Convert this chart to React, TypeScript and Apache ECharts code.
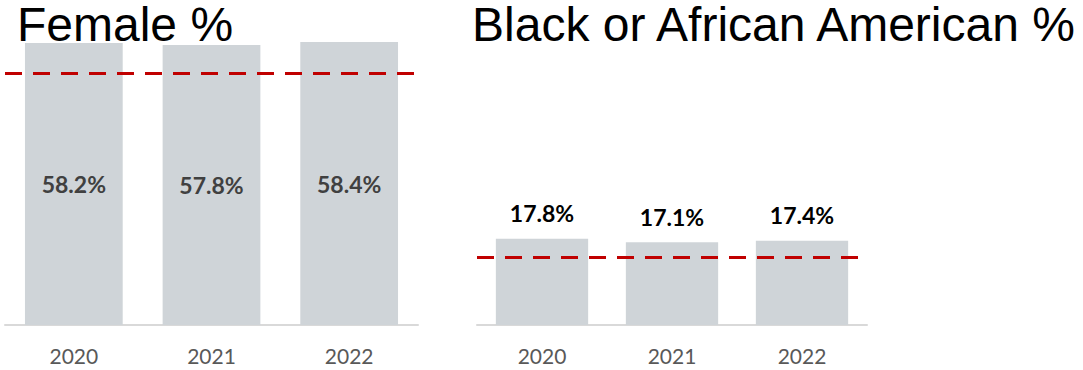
import React, { useEffect, useRef } from "react";
import * as echarts from "echarts";

const categories = ["2020", "2021", "2022"];
const femaleValues = [58.2, 57.8, 58.4];
const blackValues = [17.8, 17.1, 17.4];
const femaleTarget = 52;
const blackTarget = 14;
const titleLeft = "Female %";
const titleRight = "Black or African American %";

const BAR = "#CFD4D8";
const RED = "#C00000";
const AXIS = "#D9D9D9";

export default function App() {
  const ref = useRef<HTMLDivElement>(null);
  useEffect(() => {
    if (!ref.current) return;
    const chart = echarts.init(ref.current, undefined, { renderer: "svg" });
    const xAxisBase = {
      type: "category",
      data: categories,
      axisTick: { show: false },
      axisLine: { lineStyle: { color: AXIS, width: 2 } },
      axisLabel: { color: "#595959", fontFamily: "Lato", fontSize: 21, margin: 20 },
    };
    const yAxisBase = { type: "value", min: 0, max: 60, show: false, splitLine: { show: false } };
    const markLine = (v: number) => ({
      silent: true,
      symbol: "none",
      label: { show: false },
      lineStyle: { color: RED, width: 3, type: [17, 11] },
      data: [{ yAxis: v }],
    });
    const titleStyle = {
      fontFamily: "Liberation Sans",
      fontSize: 48,
      lineHeight: 48,
      fontWeight: "normal",
      color: "#000",
    };
    chart.setOption({
      animation: false,
      title: [
        { text: titleLeft, left: 17, top: 0, padding: 0, textStyle: titleStyle },
        { text: titleRight, left: 472, top: 0, padding: 0, textStyle: titleStyle },
      ],
      grid: [
        { left: 5, right: 665, top: 34.3, bottom: 45 },
        { left: 477, right: 216, top: 34.3, bottom: 45 },
      ],
      xAxis: [
        { ...xAxisBase, gridIndex: 0 },
        { ...xAxisBase, gridIndex: 1 },
      ],
      yAxis: [
        { ...yAxisBase, gridIndex: 0 },
        { ...yAxisBase, gridIndex: 1 },
      ],
      series: [
        {
          type: "bar",
          xAxisIndex: 0,
          yAxisIndex: 0,
          data: femaleValues,
          barWidth: "71%",
          itemStyle: { color: BAR },
          label: {
            show: true,
            position: "inside",
            formatter: (p: any) => p.value.toFixed(1) + "%",
            fontFamily: "Lato",
            fontWeight: "bold",
            fontSize: 23,
            color: "#404040",
          },
          markLine: markLine(femaleTarget),
        },
        {
          type: "bar",
          xAxisIndex: 1,
          yAxisIndex: 1,
          data: blackValues,
          barWidth: "71%",
          itemStyle: { color: BAR },
          label: {
            show: true,
            position: "top",
            distance: 14,
            formatter: (p: any) => p.value.toFixed(1) + "%",
            fontFamily: "Lato",
            fontWeight: "bold",
            fontSize: 23,
            color: "#000",
          },
          markLine: markLine(blackTarget),
        },
      ],
    });
    return () => chart.dispose();
  }, []);
  return (
    <div
      ref={ref}
      style={{ position: "fixed", left: 0, top: 0, width: 1083, height: 370, background: "#fff" }}
    />
  );
}
